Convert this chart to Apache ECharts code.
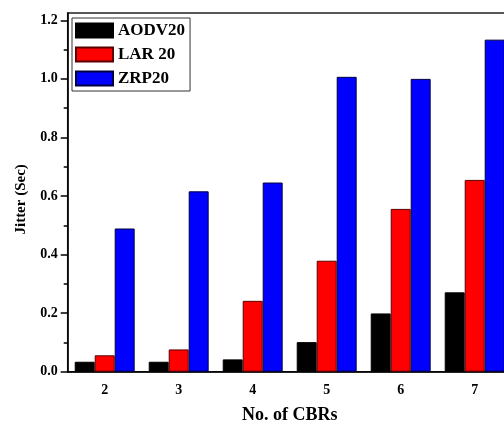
<!DOCTYPE html>
<html>
<head>
<meta charset="utf-8">
<script src="https://cdn.jsdelivr.net/npm/echarts@6/dist/echarts.min.js"></script>
<style>
html,body{margin:0;padding:0;overflow:hidden;background:#fff;width:504px;height:425px;}
#c{width:520px;height:425px;}
</style>
</head>
<body>
<div id="c"></div>
<script>
const categories = ['2', '3', '4', '5', '6', '7'];
const aodv20 = [0.034, 0.034, 0.042, 0.101, 0.199, 0.271];
const lar20 = [0.056, 0.076, 0.242, 0.379, 0.556, 0.655];
const zrp20 = [0.489, 0.616, 0.646, 1.007, 1.000, 1.134];
const yMajorTicks = [0, 0.2, 0.4, 0.6, 0.8, 1.0, 1.2];
const yMinorTicks = [0.1, 0.3, 0.5, 0.7, 0.9, 1.1];

const font = 'Liberation Serif';
const chart = echarts.init(document.getElementById('c'), null, {renderer: 'canvas'});
const bar = (name, data, color, border) => ({
  name, type: 'bar', data, xAxisIndex: 0, yAxisIndex: 0,
  barGap: '0%', barCategoryGap: '19%',
  itemStyle: {color, borderColor: border, borderWidth: 1},
  emphasis: {disabled: true}, animation: false
});
chart.setOption({
  animation: false,
  textStyle: {fontFamily: font},
  grid: {left: 67.7, right: 8.3, top: 13, bottom: 53.3, outerBoundsMode: 'none', containLabel: false,
         show: true, borderColor: '#222', borderWidth: 1.5, backgroundColor: 'transparent'},
  legend: {
    orient: 'vertical', left: 72, top: 18,
    padding: [4, 5, 4, 3], itemGap: 7, itemWidth: 37, itemHeight: 14,
    borderColor: '#333', borderWidth: 1, backgroundColor: '#fff',
    textStyle: {fontFamily: font, fontWeight: 'bold', fontSize: 17, color: '#000'},
    icon: 'rect',
    data: ['AODV20', 'LAR 20', 'ZRP20']
  },
  xAxis: [{
    type: 'category', data: categories, position: 'bottom',
    name: 'No. of CBRs', nameLocation: 'middle', nameGap: 35,
    nameTextStyle: {fontFamily: font, fontWeight: 'bold', fontSize: 18, color: '#000'},
    axisLine: {lineStyle: {color: '#000', width: 1.5}},
    axisTick: {alignWithLabel: true, length: 6, lineStyle: {color: '#000', width: 1.5}},
    axisLabel: {fontFamily: font, fontWeight: 'bold', fontSize: 14, color: '#000', margin: 12},
    splitLine: {show: false}
  }, {
    type: 'category', data: categories, position: 'bottom',
    axisLine: {show: false},
    axisTick: {length: 3, lineStyle: {color: '#000', width: 1.5}},
    axisLabel: {show: false}, splitLine: {show: false}
  }],
  yAxis: [{
    type: 'value', min: 0, max: 1.225, position: 'left',
    name: 'Jitter (Sec)', nameLocation: 'middle', nameGap: 39,
    nameTextStyle: {fontFamily: font, fontWeight: 'bold', fontSize: 15, color: '#000', padding: [0, 14, 0, 0]},
    axisLine: {show: true, lineStyle: {color: '#000', width: 1.5}},
    axisTick: {show: true, length: 7, customValues: yMajorTicks, lineStyle: {color: '#000', width: 1.5}},
    axisLabel: {customValues: yMajorTicks, formatter: v => v.toFixed(1), fontFamily: font, fontWeight: 'bold', fontSize: 14, color: '#000', margin: 10},
    splitLine: {show: false}
  }, {
    type: 'value', min: 0, max: 1.225, position: 'left',
    axisLine: {show: false},
    axisTick: {show: true, length: 4, customValues: yMinorTicks, lineStyle: {color: '#000', width: 1.5}},
    axisLabel: {show: false}, splitLine: {show: false}
  }],
  series: [
    bar('AODV20', aodv20, '#000000', '#000000'),
    bar('LAR 20', lar20, '#ff0000', '#5a0000'),
    bar('ZRP20', zrp20, '#0000ff', '#000040')
  ]
});
</script>
</body>
</html>
